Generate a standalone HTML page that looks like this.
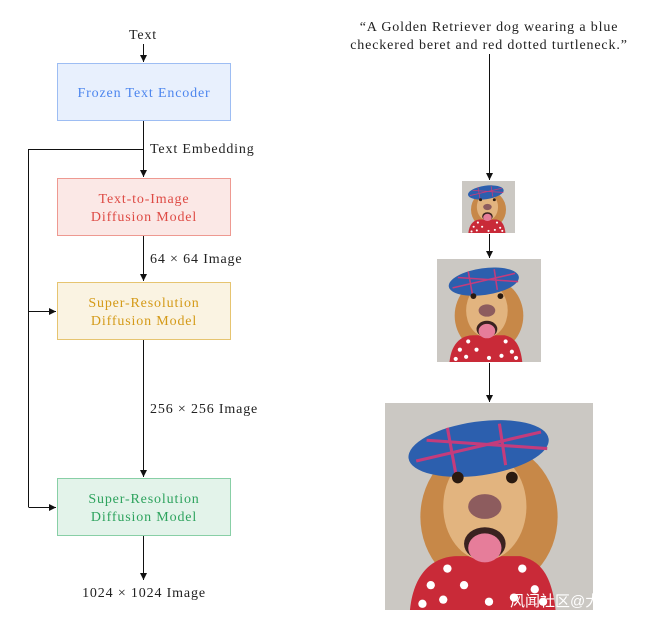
<!DOCTYPE html>
<html><head><meta charset="utf-8"><style>
html,body{margin:0;padding:0;background:#fff;}
svg{display:block;}
text{font-family:"Liberation Serif","Noto Serif CJK SC",serif;font-size:14px;letter-spacing:0.85px;fill:#222;}
</style></head><body>
<svg width="663" height="621" viewBox="0 0 663 621" xmlns="http://www.w3.org/2000/svg">
<defs>
<marker id="a" markerWidth="8" markerHeight="8" refX="7" refY="4" orient="auto" markerUnits="userSpaceOnUse">
<path d="M0,0.5 L7,4 L0,7.5 Z" fill="#111"/></marker>
<g id="dog">
<rect width="100" height="100" fill="#cbc8c3"/>
<ellipse cx="50" cy="55" rx="33" ry="36" fill="#c78848"/>
<path d="M12,100 C14,80 25,74 35,74 L65,74 C74,76 80,82 82,100 Z" fill="#c92a38"/>
<g fill="#fff"><circle cx="22" cy="88" r="2"/><circle cx="30" cy="80" r="2"/><circle cx="28" cy="95" r="2"/><circle cx="38" cy="88" r="2"/><circle cx="66" cy="80" r="2"/><circle cx="72" cy="90" r="2"/><circle cx="62" cy="94" r="2"/><circle cx="76" cy="96" r="2"/><circle cx="18" cy="97" r="2"/><circle cx="50" cy="96" r="2"/></g>
<ellipse cx="48" cy="50" rx="20" ry="26" fill="#e2b47f"/>
<ellipse cx="45" cy="22" rx="34" ry="13" transform="rotate(-8 45 22)" fill="#2c5fae"/>
<path d="M15,28 L75,14 M20,18 L78,22 M30,12 L34,34 M55,10 L58,30" stroke="#c43c7c" stroke-width="1.5" fill="none"/>
<circle cx="35" cy="36" r="2.8" fill="#2a1a10"/><circle cx="61" cy="36" r="2.8" fill="#2a1a10"/>
<ellipse cx="48" cy="50" rx="8" ry="6" fill="#8d5c5e"/>
<ellipse cx="48" cy="68" rx="10" ry="8" fill="#3a2220"/>
<ellipse cx="48" cy="70" rx="8" ry="7" fill="#e67d9a"/>
</g>
</defs>

<text x="143" y="39" text-anchor="middle">Text</text>
<line x1="143.5" y1="44" x2="143.5" y2="62" stroke="#111" marker-end="url(#a)"/>
<rect x="57.5" y="63.5" width="173" height="57" fill="#e8f0fd" stroke="#9dbdf3"/>
<text x="144" y="97" text-anchor="middle" style="fill:#4d86ee">Frozen Text Encoder</text>
<line x1="143.5" y1="121" x2="143.5" y2="177" stroke="#111" marker-end="url(#a)"/>
<text x="150" y="153">Text Embedding</text>
<path d="M143.5,149.5 H28.5 V507" stroke="#111" fill="none"/>
<rect x="57.5" y="178.5" width="173" height="57" fill="#fbe8e6" stroke="#ee9991"/>
<text x="144" y="203" text-anchor="middle" style="fill:#de4b45">Text-to-Image</text>
<text x="144" y="221" text-anchor="middle" style="fill:#de4b45">Diffusion Model</text>
<line x1="143.5" y1="236" x2="143.5" y2="281" stroke="#111" marker-end="url(#a)"/>
<text x="150" y="263">64 × 64 Image</text>
<rect x="57.5" y="282.5" width="173" height="57" fill="#faf3e2" stroke="#e6c470"/>
<text x="144" y="307" text-anchor="middle" style="fill:#d49a18">Super-Resolution</text>
<text x="144" y="325" text-anchor="middle" style="fill:#d49a18">Diffusion Model</text>
<line x1="28.5" y1="311.5" x2="56" y2="311.5" stroke="#111" marker-end="url(#a)"/>
<line x1="143.5" y1="340" x2="143.5" y2="477" stroke="#111" marker-end="url(#a)"/>
<text x="150" y="413">256 × 256 Image</text>
<rect x="57.5" y="478.5" width="173" height="57" fill="#e3f3ea" stroke="#88cfa6"/>
<text x="144" y="503" text-anchor="middle" style="fill:#2ea35e">Super-Resolution</text>
<text x="144" y="521" text-anchor="middle" style="fill:#2ea35e">Diffusion Model</text>
<line x1="28.5" y1="507.5" x2="56" y2="507.5" stroke="#111" marker-end="url(#a)"/>
<line x1="143.5" y1="536" x2="143.5" y2="580" stroke="#111" marker-end="url(#a)"/>
<text x="144" y="597" text-anchor="middle">1024 × 1024 Image</text>

<text x="489" y="31" text-anchor="middle">“A Golden Retriever dog wearing a blue</text>
<text x="489" y="49" text-anchor="middle">checkered beret and red dotted turtleneck.”</text>
<line x1="489.5" y1="54" x2="489.5" y2="180" stroke="#111" marker-end="url(#a)"/>
<use href="#dog" transform="translate(462,181) scale(0.53,0.52)"/>
<line x1="489.5" y1="234" x2="489.5" y2="258" stroke="#111" marker-end="url(#a)"/>
<use href="#dog" transform="translate(437,259) scale(1.04,1.03)"/>
<line x1="489.5" y1="363" x2="489.5" y2="402" stroke="#111" marker-end="url(#a)"/>
<use href="#dog" transform="translate(385,403) scale(2.08,2.07)"/>
<text x="510" y="606" style="fill:#fff;font-family:'Liberation Sans','Noto Sans CJK SC',sans-serif;font-size:15px;letter-spacing:0">风闻社区@大</text>
</svg>
</body></html>
